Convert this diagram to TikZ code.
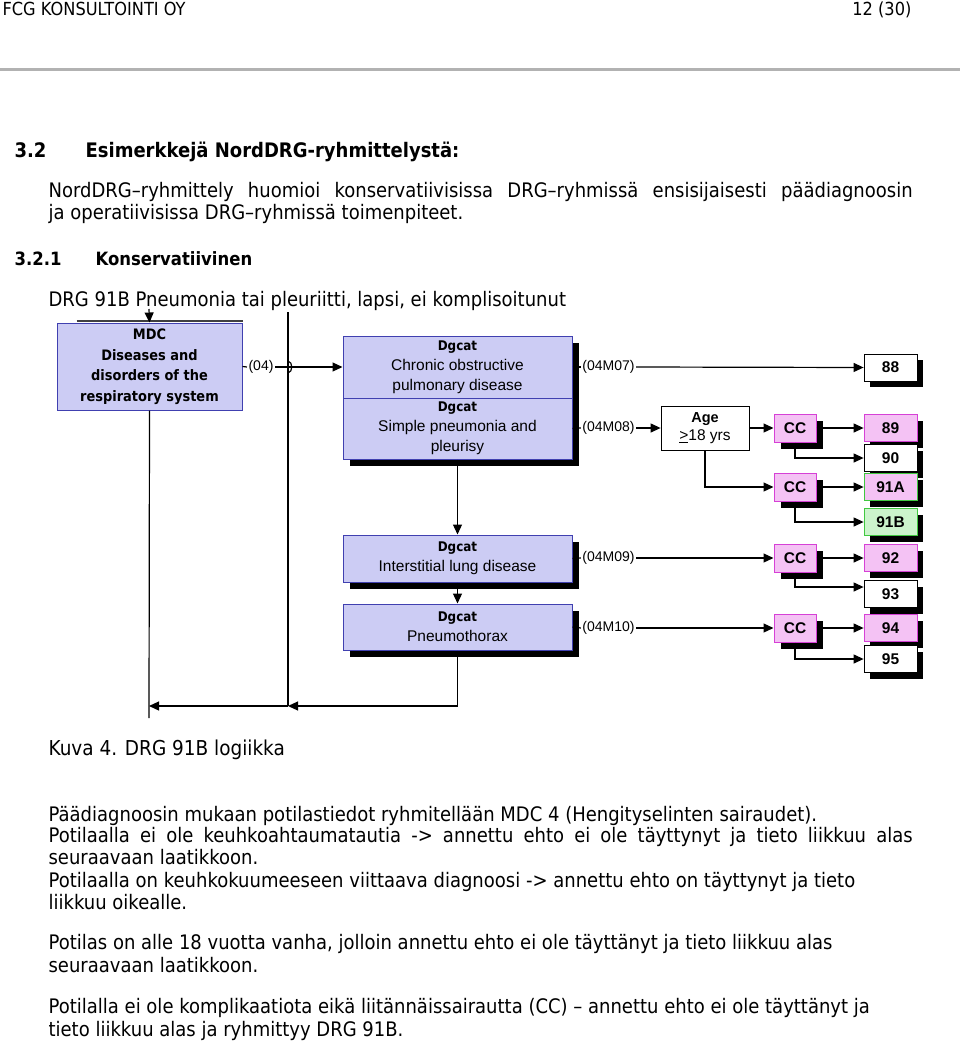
\documentclass[tikz,border=0pt]{standalone}
\usepackage{fontspec}
\setmainfont[FakeStretch=0.9]{DejaVu Sans}
\newfontfamily\arialfont{Liberation Sans}
\usetikzlibrary{arrows.meta,shadows}

\definecolor{dgfill}{RGB}{204,204,244}
\definecolor{dgline}{RGB}{64,64,176}
\definecolor{ccfill}{RGB}{244,194,244}
\definecolor{ccline}{RGB}{214,64,214}
\definecolor{okfill}{RGB}{204,244,204}
\definecolor{okline}{RGB}{64,200,64}
\definecolor{rulegray}{RGB}{178,178,178}

\newcommand{\dgcat}{{\normalfont\bfseries\fontsize{13.3}{20}\selectfont Dgcat}}

\tikzstyle{every node}=[inner sep=0pt]
\tikzstyle{boxshadow}=[drop shadow={shadow xshift=7pt,shadow yshift=-7pt,fill=black,opacity=1}]
\tikzstyle{mdcbox}=[draw=dgline,fill=dgfill,line width=1pt,minimum width=185pt,minimum height=87pt,align=center,font=\fontsize{14.4}{20.5}\selectfont\bfseries]
\tikzstyle{dgbox}=[draw=dgline,fill=dgfill,line width=1pt,minimum width=229pt,align=center,font=\arialfont\fontsize{15.5}{20}\selectfont,boxshadow]
\tikzstyle{agebox}=[draw,fill=white,line width=0.8pt,minimum width=88pt,minimum height=44pt,align=center,font=\arialfont\fontsize{15.5}{18}\selectfont]
\tikzstyle{ccbox}=[draw=ccline,fill=ccfill,line width=1pt,minimum width=42pt,minimum height=28pt,font=\arialfont\fontsize{15.5}{18}\selectfont\bfseries,boxshadow]
\tikzstyle{drgbox}=[draw,fill=white,line width=0.8pt,minimum width=53pt,minimum height=27pt,font=\arialfont\fontsize{15.5}{18}\selectfont\bfseries,drop shadow={shadow xshift=6pt,shadow yshift=-6pt,fill=black,opacity=1}]
\tikzstyle{pinkdrg}=[drgbox,draw=ccline,fill=ccfill]
\tikzstyle{codelabel}=[font=\arialfont\fontsize{14}{16}\selectfont,inner sep=1pt]
\tikzstyle{txt}=[anchor=base west,font=\fontsize{20}{23}\selectfont]
\tikzstyle{headtxt}=[anchor=base west,font=\fontsize{20}{23}\selectfont\bfseries]

\begin{document}
\begin{tikzpicture}[x=1pt,y=-1pt,>={Triangle[length=10pt,width=9pt]},line width=1.2pt]
\useasboundingbox (0,0) rectangle (960,1041);

% page head
\node[txt,font=\fontsize{18}{20}\selectfont] (firm) at (2,16) {FCG KONSULTOINTI OY};
\node[txt,anchor=base east,font=\fontsize{18}{20}\selectfont] (pageno) at (912,16) {12 (30)};
\draw[rulegray,line width=3pt] (0,70) -- (960,70);

% headings
\node[headtxt] (secnum) at (14,157) {3.2};
\node[headtxt] (sec) at (85,157) {Esimerkkejä NordDRG-ryhmittelystä:};
\node[txt] (intro1) at (48,197) {\makebox[864pt][s]{NordDRG–ryhmittely huomioi konservatiivisissa DRG–ryhmissä ensisijaisesti päädiagnoosin}};
\node[txt] (intro2) at (48,219) {ja operatiivisissa DRG–ryhmissä toimenpiteet.};
\node[headtxt,font=\fontsize{18.3}{21}\selectfont\bfseries] (subnum) at (14,265) {3.2.1};
\node[headtxt,font=\fontsize{18.3}{21}\selectfont\bfseries] (sub) at (95,265) {Konservatiivinen};
\node[txt] (title) at (48,306) {DRG 91B Pneumonia tai pleuriitti, lapsi, ei komplisoitunut};

% boxes
\node[mdcbox] (mdc) at (149.5,366.5) {MDC\\Diseases and\\disorders of the\\respiratory system};
\node[dgbox,minimum height=62pt] (copd) at (457.5,367) {\dgcat\\Chronic obstructive\\pulmonary disease};
\node[dgbox,minimum height=61pt] (pneu) at (457.5,428.5) {\dgcat\\Simple pneumonia and\\pleurisy};
\node[dgbox,minimum height=47pt] (inter) at (457.5,558.5) {\dgcat\\Interstitial lung disease};
\node[dgbox,minimum height=46pt] (pnx) at (457.5,627) {\dgcat\\Pneumothorax};

\node[codelabel] (l04) at (261,367) {(04)};
\node[codelabel] (l07) at (608.5,367) {(04M07)};
\node[codelabel] (l08) at (608.5,428) {(04M08)};
\node[codelabel] (l09) at (608.5,558) {(04M09)};
\node[codelabel] (l10) at (608.5,628) {(04M10)};

\node[agebox] (age) at (705,428) {{\bfseries\fontsize{14.5}{18}\selectfont Age}\\\underline{>}18 yrs};

\node[ccbox] (cc1) at (795,428) {CC};
\node[ccbox] (cc2) at (795,487) {CC};
\node[ccbox] (cc3) at (795,558) {CC};
\node[ccbox] (cc4) at (795,628) {CC};

\node[drgbox] (d88) at (890.5,367.5) {88};
\node[pinkdrg] (d89) at (890.5,428) {89};
\node[drgbox] (d90) at (890.5,458) {90};
\node[drgbox,fill=ccfill,draw=okline] (d91a) at (890.5,487) {91A};
\node[drgbox,fill=okfill,draw=okline] (d91b) at (890.5,522) {91B};
\node[pinkdrg] (d92) at (890.5,558) {92};
\node[drgbox] (d93) at (890.5,594) {93};
\node[pinkdrg] (d94) at (890.5,628) {94};
\node[drgbox] (d95) at (890.5,659) {95};

% connectors
\coordinate (mdcin) at (149,309);
\coordinate (passtop) at (288,312);
\coordinate (hop) at (288,367);
\coordinate (passend) at (288,706);
\coordinate (mdcend) at (149,706);
\coordinate (mdcfoot) at (149,718);

\draw[line width=2pt,black!75] ([xshift=20pt,yshift=2pt]mdc.north west) -- ([yshift=2pt]mdc.north east);
\draw[->] (mdcin) -- (mdc.north);
\draw (mdc.south) -- (mdcfoot);
\draw (mdc.east) -- (l04.west);
\draw (passtop) -- (passend);
\draw[->] (l04.east) -- (copd.west);
\draw (hop) ++(0,-6) .. controls ++(5,1) and ++(5,-1) .. ++(0,12);

\draw (copd.east) -- (l07.west);
\draw[->] (l07.east) -- (d88.west);
\draw (pneu.east) -- (l08.west);
\draw[->] (l08.east) -- (age.west);
\draw[->] (age.east) -- (cc1.west);
\draw[->] (age.south) |- (cc2.west);
\draw[->] (cc1.east) -- (d89.west);
\draw[->] (cc1.south) |- (d90.west);
\draw[->] (cc2.east) -- (d91a.west);
\draw[->] (cc2.south) |- (d91b.west);

\draw[->] (pneu.south) -- (inter.north);
\draw (inter.east) -- (l09.west);
\draw[->] (l09.east) -- (cc3.west);
\draw[->] (cc3.east) -- (d92.west);
\draw[->] (cc3.south) |- ([yshift=7pt]d93.west);

\draw[->] (inter.south) -- (pnx.north);
\draw (pnx.east) -- (l10.west);
\draw[->] (l10.east) -- (cc4.west);
\draw[->] (cc4.east) -- (d94.west);
\draw[->] (cc4.south) |- (d95.west);

\draw[->] (pnx.south) |- (passend);
\draw[->] (passend) -- (mdcend);

% caption and text
\node[txt,font=\fontsize{20.5}{23}\selectfont] (caption) at (48,755) {Kuva 4. DRG 91B logiikka};
\node[txt] (p1) at (48,821) {Päädiagnoosin mukaan potilastiedot ryhmitellään MDC 4 (Hengityselinten sairaudet).};
\node[txt] (p2) at (48,842) {\makebox[864pt][s]{Potilaalla ei ole keuhkoahtaumatautia -> annettu ehto ei ole täyttynyt ja tieto liikkuu alas}};
\node[txt] (p3) at (48,864) {seuraavaan laatikkoon.};
\node[txt] (p4) at (48,887) {Potilaalla on keuhkokuumeeseen viittaava diagnoosi -> annettu ehto on täyttynyt ja tieto};
\node[txt] (p5) at (48,909) {liikkuu oikealle.};
\node[txt] (p6) at (48,949) {Potilas on alle 18 vuotta vanha, jolloin annettu ehto ei ole täyttänyt ja tieto liikkuu alas};
\node[txt] (p7) at (48,972) {seuraavaan laatikkoon.};
\node[txt] (p8) at (48,1013) {Potilalla ei ole komplikaatiota eikä liitännäissairautta (CC) – annettu ehto ei ole täyttänyt ja};
\node[txt] (p9) at (48,1036) {tieto liikkuu alas ja ryhmittyy DRG 91B.};
\end{tikzpicture}
\end{document}
